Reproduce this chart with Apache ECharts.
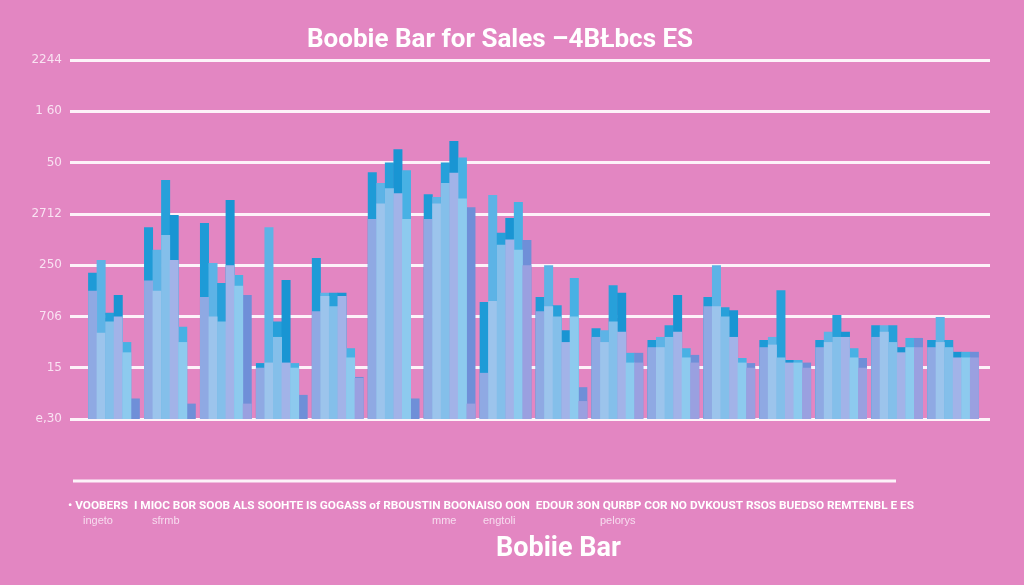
<!DOCTYPE html>
<html lang="en">
<head>
    <meta charset="UTF-8">
    <title>Boobie Bar</title>
    <script src="https://cdn.jsdelivr.net/npm/echarts/dist/echarts.min.js"></script>
    <style>
        html, body { margin: 0; padding: 0; height: 100%; overflow: hidden; background: #e386c2; }
        #main { width: 1024px; height: 585px; }
    </style>
</head>
<body>
    <div id="main"></div>
    <script>
        // clusters along the axis (no visible names in the picture)
        var clusters = ['c1', 'c2', 'c3', 'c4', 'c5', 'c6', 'c7', 'c8', 'c9', 'c10', 'c11', 'c12', 'c13', 'c14', 'c15', 'c16'];
        // tick labels, bottom to top
        var yTickLabels = ['e,30', '15', '706', '250', '2712', '50', '1 60', '2244'];

        // tall (back) bars, one array per position inside a cluster
        var back0 = [2.85, 3.74, 3.82, 1.09, 3.14, 4.81, 4.38, 2.28, 2.38, 1.77, 1.54, 2.38, 1.54, 1.54, 1.83, 1.54];
        var back1 = [3.1, 3.3, 3.04, 3.74, 2.46, 4.6, 4.33, 4.37, 3.0, 1.73, 1.6, 3.0, 1.6, 1.7, 1.83, 1.99];
        var back2 = [2.07, 4.66, 2.65, 1.9, 2.46, 5.0, 5.0, 3.63, 2.22, 2.61, 1.83, 2.18, 2.51, 2.03, 1.83, 1.54];
        var back3 = [2.42, 3.98, 4.27, 2.71, 2.46, 5.26, 5.42, 3.92, 1.73, 2.46, 2.42, 2.12, 1.15, 1.7, 1.4, 1.31];
        var back4 = [1.5, 1.8, 2.81, 1.09, 1.38, 4.85, 5.1, 4.23, 2.75, 1.29, 1.38, 1.19, 1.15, 1.38, 1.58, 1.31];
        var back5 = [0.4, 0.3, 2.42, 0.47, 0.82, 0.4, 4.13, 3.49, 0.62, 1.29, 1.25, 1.09, 1.1, 1.19, 1.58, 1.31];

        // lighter (front) bars
        var front0 = [2.5, 2.7, 2.38, 1.0, 2.1, 3.9, 3.9, 0.9, 2.1, 1.6, 1.4, 2.2, 1.4, 1.4, 1.6, 1.4];
        var front1 = [1.68, 2.5, 2.0, 1.1, 2.4, 4.2, 4.2, 2.3, 2.2, 1.5, 1.4, 2.2, 1.45, 1.5, 1.7, 1.5];
        var front2 = [1.9, 3.59, 1.9, 1.6, 2.2, 4.5, 4.6, 3.4, 2.0, 1.9, 1.6, 2.0, 1.2, 1.6, 1.5, 1.4];
        var front3 = [2.0, 3.1, 3.0, 1.1, 2.4, 4.4, 4.8, 3.5, 1.5, 1.7, 1.7, 1.6, 1.1, 1.6, 1.3, 1.2];
        var front4 = [1.3, 1.5, 2.6, 1.0, 1.2, 3.9, 4.3, 3.3, 2.0, 1.1, 1.2, 1.1, 1.1, 1.2, 1.4, 1.2];
        var front5 = [0, 0, 0.3, 0, 0.8, 0, 0.3, 3.0, 0.35, 1.1, 1.1, 1.0, 1.0, 1.0, 1.4, 1.2];

        var backData = [back0, back1, back2, back3, back4, back5];
        var frontData = [front0, front1, front2, front3, front4, front5];
        var backColors = ['#1e9bd7', '#5db3e6', '#27a0da', '#1995d3', '#48b1e4', '#6f8fd8'];
        var frontColors = ['#8fa9e3', '#9cc4ec', '#84bfea', '#a2b3e8', '#8dcaee', '#9aa0e0'];

        var series = [];
        backData.forEach(function (d, i) {
            series.push({
                name: 'back' + i, type: 'bar', xAxisIndex: 1, yAxisIndex: 1,
                data: d, barWidth: 9, barGap: '-5%',
                itemStyle: { color: backColors[i] }
            });
        });
        frontData.forEach(function (d, i) {
            series.push({
                name: 'front' + i, type: 'bar', xAxisIndex: 2, yAxisIndex: 1,
                data: d, barWidth: 9, barGap: '-5%',
                itemStyle: { color: frontColors[i] }
            });
        });

        var chart = echarts.init(document.getElementById('main'));
        var option = {
            backgroundColor: '#e386c2',
            animation: false,
            title: {
                text: 'Boobie Bar for Sales –4BŁbcs ES',
                left: 302,
                top: 22,
                textStyle: {
                    color: '#ffffff', fontSize: 26, fontWeight: 'bold',
                    fontFamily: '"Roboto", sans-serif'
                }
            },
            grid: [
                { left: 70, right: 34, top: 60, bottom: 166 },
                { left: 86, right: 43, top: 60, bottom: 166 }
            ],
            xAxis: [
                { gridIndex: 0, type: 'category', data: clusters, show: false },
                { gridIndex: 1, type: 'category', data: clusters, show: false },
                { gridIndex: 1, type: 'category', data: clusters, show: false }
            ],
            yAxis: [
                {
                    gridIndex: 0, type: 'value', min: 0, max: 7, interval: 1,
                    axisLine: { show: false },
                    axisTick: { show: false },
                    splitLine: { lineStyle: { color: '#fdf2f9', width: 3 } },
                    axisLabel: {
                        color: '#f9e2f2', fontSize: 12, margin: 8,
                        fontFamily: '"DejaVu Sans", sans-serif',
                        formatter: function (v) { return yTickLabels[v]; }
                    }
                },
                { gridIndex: 1, type: 'value', min: 0, max: 7, show: false }
            ],
            graphic: [
                {
                    type: 'line', shape: { x1: 73, y1: 481, x2: 896, y2: 481 },
                    style: { stroke: '#fdf2f9', lineWidth: 3 }
                },
                {
                    type: 'text', left: 68, top: 500,
                    style: {
                        text: '• VOOBERS  I MIOC BOR SOOB ALS SOOHTE IS GOGASS of RBOUSTIN BOONAISO OON  EDOUR 3ON QURBP COR NO DVKOUST RSOS BUEDSO REMTENBL E ES',
                        fill: '#ffffff', fontSize: 11.8, fontWeight: 'bold',
                        fontFamily: '"Roboto", sans-serif'
                    }
                },
                { type: 'text', left: 83, top: 515, style: { text: 'ingeto', fill: '#f7dcef', fontSize: 11 } },
                { type: 'text', left: 152, top: 515, style: { text: 'sfrmb', fill: '#f7dcef', fontSize: 11 } },
                { type: 'text', left: 432, top: 515, style: { text: 'mme', fill: '#f7dcef', fontSize: 11 } },
                { type: 'text', left: 483, top: 515, style: { text: 'engtoli', fill: '#f7dcef', fontSize: 11 } },
                { type: 'text', left: 600, top: 515, style: { text: 'pelorys', fill: '#f7dcef', fontSize: 11 } },
                {
                    type: 'text', left: 496, top: 536,
                    style: {
                        text: 'Bobiie Bar', fill: '#ffffff', fontSize: 27, fontWeight: 'bold',
                        fontFamily: '"Roboto", sans-serif'
                    }
                }
            ],
            series: series
        };
        chart.setOption(option);
    </script>
</body>
</html>
